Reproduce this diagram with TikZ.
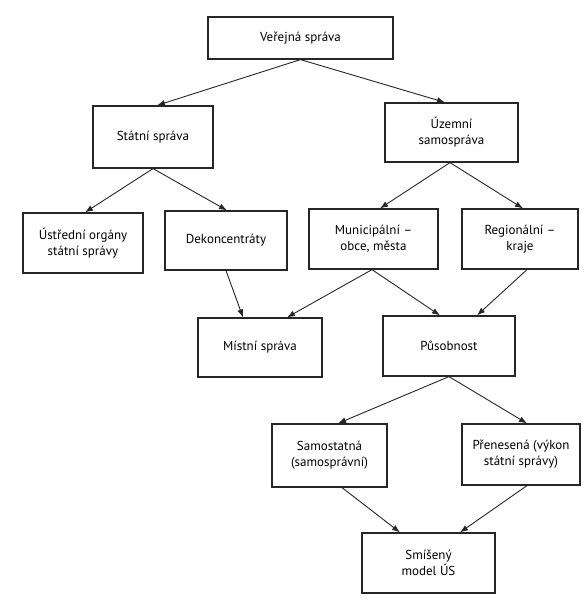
\documentclass[tikz,border=0pt]{standalone}
\usepackage{fontspec}
\setmainfont{PT Sans}
\usetikzlibrary{arrows.meta}
\tikzset{
  box/.style={draw=black!85, line width=1.2pt, rectangle, align=center, font=\fontsize{13}{16}\selectfont, inner sep=2pt},
  conn/.style={draw=black!85, line width=0.9pt, -{Latex[length=8pt,width=6pt]}}
}
\begin{document}
\begin{tikzpicture}[x=1pt,y=-1pt]
\useasboundingbox (0,0) rectangle (584,600);
\node[box, minimum width=185pt, minimum height=42pt] (ver) at (300.5,38) {Veřejná správa};
\node[box, minimum width=120pt, minimum height=62pt] (stat) at (153,137) {Státní správa};
\node[box, minimum width=133pt, minimum height=59pt] (uzem) at (451.5,132.5) {Územní\\samospráva};
\node[box, minimum width=120pt, minimum height=60pt] (ustr) at (83,243) {Ústřední orgány\\státní správy};
\node[box, minimum width=122pt, minimum height=59pt] (dek) at (226,240.5) {Dekoncentráty};
\node[box, minimum width=129pt, minimum height=60pt] (mun) at (373.5,239) {Municipální –\\obce, města};
\node[box, minimum width=116pt, minimum height=60pt] (reg) at (520,239) {Regionální –\\kraje};
\node[box, minimum width=124pt, minimum height=59pt] (mist) at (260,347.5) {Místní správa};
\node[box, minimum width=132pt, minimum height=60pt] (pus) at (449,346) {Působnost};
\node[box, minimum width=115pt, minimum height=63pt] (sam) at (329.5,455.5) {Samostatná\\(samosprávní)};
\node[box, minimum width=118pt, minimum height=61pt] (pren) at (521,454.5) {Přenesená (výkon\\státní správy)};
\node[box, minimum width=133pt, minimum height=60pt] (smis) at (428.5,563) {Smíšený\\model ÚS};

\draw[conn] (ver.south) -- ([xshift=4pt]stat.north);
\draw[conn] (ver.south) -- ([xshift=-6.5pt]uzem.north);
\draw[conn] (stat.south) -- ([xshift=2pt]ustr.north);
\draw[conn] (stat.south) -- ([xshift=1pt]dek.north);
\draw[conn] ([xshift=-1.5pt]uzem.south) -- ([xshift=6.5pt]mun.north);
\draw[conn] ([xshift=-1.5pt]uzem.south) -- ([xshift=3pt]reg.north);
\draw[conn] (dek.south) -- ([xshift=-17pt]mist.north);
\draw[conn] ([xshift=-1.5pt]mun.south) -- ([xshift=27pt]mist.north);
\draw[conn] ([xshift=-1.5pt]mun.south) -- ([xshift=-9pt]pus.north);
\draw[conn] ([xshift=7pt]reg.south) -- ([xshift=28pt]pus.north);
\draw[conn] (pus.south) -- ([xshift=8.5pt]sam.north);
\draw[conn] (pus.south) -- ([xshift=6pt]pren.north);
\draw[conn] ([xshift=12.5pt]sam.south) -- ([xshift=-28.5pt]smis.north);
\draw[conn] ([xshift=6pt]pren.south) -- ([xshift=31.5pt]smis.north);
\end{tikzpicture}
\end{document}
